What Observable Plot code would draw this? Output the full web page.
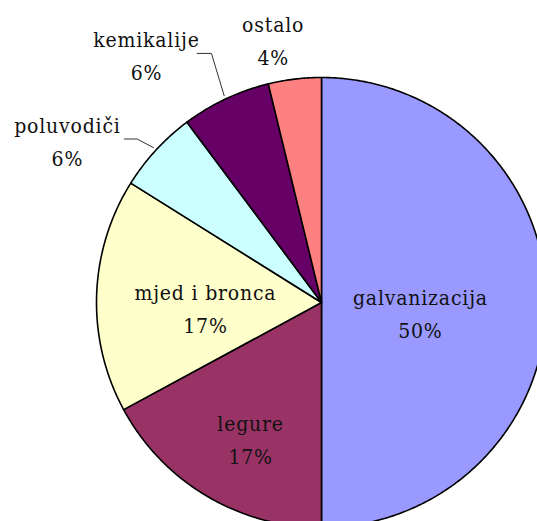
<!DOCTYPE html>
<html>
<head>
<meta charset="utf-8">
<script src="https://cdn.jsdelivr.net/npm/d3@7"></script>
<script src="https://cdn.jsdelivr.net/npm/@observablehq/plot@0.6"></script>
<style>
  html, body { margin: 0; padding: 0; background: white; overflow: hidden; }
  svg { overflow: hidden; }
  svg text { letter-spacing: 0.8px; }
</style>
</head>
<body>
<div id="chart"></div>
<script>
// ---- data ----
const categories = ["galvanizacija", "legure", "mjed i bronca", "poluvodiči", "kemikalije", "ostalo"];
const shares = [50, 17.1, 16.8, 5.9, 6.4, 3.8];
const percentLabels = ["50%", "17%", "17%", "6%", "6%", "4%"];
const colors = ["#9999FF", "#993366", "#FFFFCC", "#CCFFFF", "#660066", "#FF8080"];

// ---- layout (label placement, polar relative to pie centre) ----
const labelAngleShift = [4.6, -2.9, -3.3, -9.9, -9.9, -3.5]; // degrees
const labelRadius = [0.441, 0.674, 0.516, 1.343, 1.353, 1.197];
const leaderSlices = [3, 4];
const leaderElbowDx = {3: 69.7, 4: 65};
const leaderEndDx = {3: 57, 4: 50.7};

const cx = 321, cy = 302, R = 225;
const total = d3.sum(shares);
let acc = 0;
const slices = categories.map((name, i) => {
  const a0 = acc / total * 360;
  acc += shares[i];
  const a1 = acc / total * 360;
  return {name, i, a0, a1, mid: (a0 + a1) / 2};
});
const rad = d => d * Math.PI / 180;
const polar = (deg, r) => ({x: Math.sin(rad(deg)) * r, y: Math.cos(rad(deg)) * r});

// polygon points for each slice
const piePoints = [];
for (const s of slices) {
  piePoints.push({name: s.name, x: 0, y: 0});
  const n = Math.max(2, Math.ceil((s.a1 - s.a0) / 0.5));
  for (let k = 0; k <= n; k++) {
    const p = polar(s.a0 + (s.a1 - s.a0) * k / n, 1);
    piePoints.push({name: s.name, x: p.x, y: p.y});
  }
}

const labels = slices.map(s => {
  const p = polar(s.mid + labelAngleShift[s.i], labelRadius[s.i]);
  return {x: p.x, y: p.y, text: s.name + "\n" + percentLabels[s.i]};
});

const leaders = [];
for (const i of leaderSlices) {
  const s = slices[i];
  const edge = polar(s.mid, 1.016);
  const lab = labels[i];
  leaders.push({k: i, x: edge.x, y: edge.y});
  leaders.push({k: i, x: lab.x + leaderElbowDx[i] / R, y: lab.y});
  leaders.push({k: i, x: lab.x + leaderEndDx[i] / R, y: lab.y});
}

const chart = Plot.plot({
  width: 537,
  height: 521,
  margin: 0,
  x: {domain: [-1, 1], range: [cx - R, cx + R], axis: null},
  y: {domain: [-1, 1], range: [cy + R, cy - R], axis: null},
  color: {domain: categories, range: colors},
  style: {background: "white"},
  marks: [
    Plot.line(piePoints, {x: "x", y: "y", z: "name", fill: "name", stroke: "black", strokeWidth: 1.6, strokeLinejoin: "round", curve: "linear-closed"}),
    Plot.line(leaders, {x: "x", y: "y", z: "k", stroke: "#333", strokeWidth: 1}),
    Plot.text(labels, {x: "x", y: "y", text: "text", fontSize: 21, lineHeight: 33 / 21, fill: "#111", fontFamily: "DejaVu Serif Condensed, DejaVu Serif"})
  ]
});
document.getElementById("chart").appendChild(chart);
</script>
</body>
</html>
